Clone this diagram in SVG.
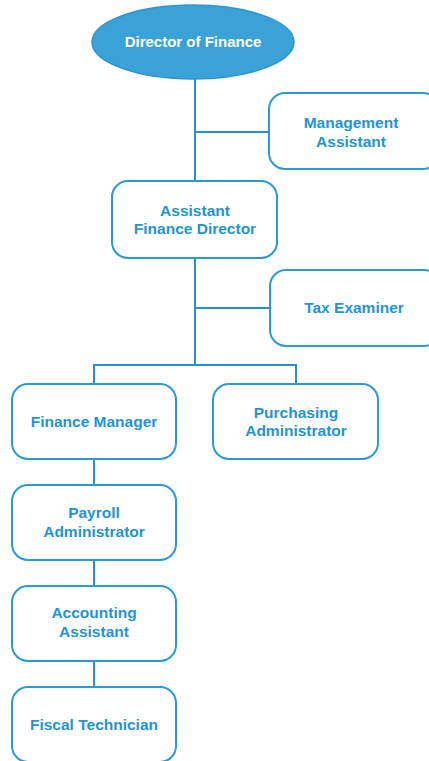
<svg xmlns="http://www.w3.org/2000/svg" width="429" height="761" viewBox="0 0 429 761">
<style>
.box{fill:#ffffff;stroke:#2b9ad8;stroke-width:2}
.lbl{font-family:"Liberation Sans",Arial,sans-serif;font-weight:bold;font-size:15.5px;fill:#1e95d8;text-anchor:middle}
.wl{font-family:"Liberation Sans",Arial,sans-serif;font-weight:bold;font-size:15px;fill:#ffffff;text-anchor:middle}
.ln{stroke:#2a8fcf;stroke-width:2;fill:none}
</style>
<rect width="429" height="761" fill="#ffffff"/>
<g id="connectors">
<path class="ln" d="M195 79 V181"/>
<path class="ln" d="M195 132 H269"/>
<path class="ln" d="M195 258 V365"/>
<path class="ln" d="M195 308 H270"/>
<path class="ln" d="M94 384 V365 H296 V384"/>
<path class="ln" d="M94 459 V485"/>
<path class="ln" d="M94 560 V586"/>
<path class="ln" d="M94 661 V687"/>
</g>
<g id="director">
<ellipse cx="193" cy="42" rx="101" ry="37" fill="#3ba2d8" stroke="#2b96d2" stroke-width="1.5"/>
<text class="wl" x="193" y="47">Director of Finance</text>
</g>
<g id="management-assistant">
<rect class="box" x="269" y="93" width="170" height="76" rx="16"/>
<text class="lbl" x="351" y="128">Management</text>
<text class="lbl" x="351" y="147">Assistant</text>
</g>
<g id="assistant-finance-director">
<rect class="box" x="112" y="181" width="165" height="77" rx="16"/>
<text class="lbl" x="195" y="216">Assistant</text>
<text class="lbl" x="195" y="234">Finance Director</text>
</g>
<g id="tax-examiner">
<rect class="box" x="270" y="270" width="170" height="76" rx="16"/>
<text class="lbl" x="354" y="313">Tax Examiner</text>
</g>
<g id="finance-manager">
<rect class="box" x="12" y="384" width="164" height="75" rx="16"/>
<text class="lbl" x="94" y="427">Finance Manager</text>
</g>
<g id="purchasing-administrator">
<rect class="box" x="213" y="384" width="165" height="75" rx="16"/>
<text class="lbl" x="296" y="418">Purchasing</text>
<text class="lbl" x="296" y="436">Administrator</text>
</g>
<g id="payroll-administrator">
<rect class="box" x="12" y="485" width="164" height="75" rx="16"/>
<text class="lbl" x="94" y="518">Payroll</text>
<text class="lbl" x="94" y="537">Administrator</text>
</g>
<g id="accounting-assistant">
<rect class="box" x="12" y="586" width="164" height="75" rx="16"/>
<text class="lbl" x="94" y="618">Accounting</text>
<text class="lbl" x="94" y="637">Assistant</text>
</g>
<g id="fiscal-technician">
<rect class="box" x="12" y="687" width="164" height="75" rx="16"/>
<text class="lbl" x="94" y="730">Fiscal Technician</text>
</g>
</svg>
